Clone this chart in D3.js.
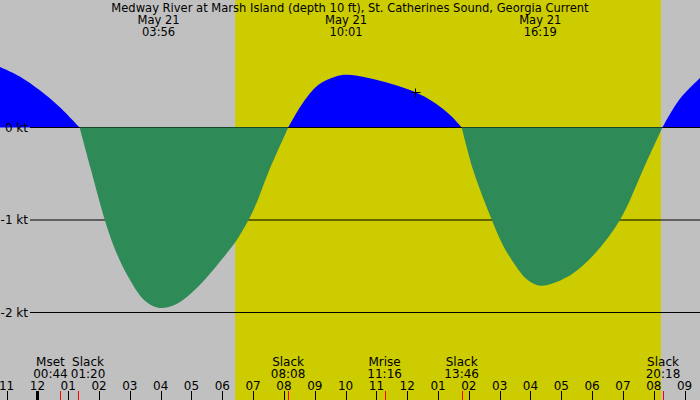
<!DOCTYPE html>
<html>
<head>
<meta charset="utf-8">
<script src="https://cdn.jsdelivr.net/npm/d3@7"></script>
<style>
  body { margin: 0; background: #c0c0c0; }
  svg { display: block; }
  text { font-family: "DejaVu Sans", sans-serif; font-size: 12px; fill: #000; }
  .head text { font-family: "DejaVu Sans Condensed", "DejaVu Sans", sans-serif; font-size: 12.8px; }
</style>
</head>
<body>
<div id="chart"></div>
<script>
// title and header (times of max flood / ebb)
const title = "Medway River at Marsh Island (depth 10 ft), St. Catherines Sound, Georgia Current";
const headDates = ["May 21", "May 21", "May 21"];
const headTimes = ["03:56", "10:01", "16:19"];

// current speed: hours after midnight, knots
const hours = [-1.25, -0.56, 0.09, 0.73, 1.37,
    1.75, 2.16, 2.51, 2.94, 3.48, 3.95, 4.5, 5.0, 5.5, 6.0, 6.5, 7.0, 7.5, 8.14,
    8.58, 9.11, 9.66, 10.04, 10.74, 11.5, 12.25, 12.9, 13.44, 13.77,
    14.14, 14.71, 15.12, 15.55, 15.88, 16.33, 17.17, 18.04, 18.9, 19.66, 20.28,
    20.85, 21.55];
const speeds = [0.66, 0.55, 0.40, 0.22, 0,
    -0.47, -0.97, -1.31, -1.61, -1.87, -1.95, -1.91, -1.79, -1.62, -1.42, -1.2, -0.9, -0.48, 0,
    0.25, 0.46, 0.55, 0.57, 0.535, 0.47, 0.384, 0.265, 0.12, 0,
    -0.46, -0.97, -1.28, -1.51, -1.64, -1.71, -1.62, -1.38, -1.0, -0.45, 0,
    0.31, 0.55];

// "now" marker
const nowHour = 12.25;
const nowSpeed = 0.384;

// daylight
const sunrise = "06:25";
const sunset = "20:14";

// events along the bottom
const eventNames = ["Mset", "Slack", "Slack", "Mrise", "Slack", "Slack"];
const eventTimes = ["00:44", "01:20", "08:08", "11:16", "13:46", "20:18"];

// y axis
const ktTicks = [0, -1, -2];
const ktLabels = ["0 kt", "-1 kt", "-2 kt"];

// hour ticks
const hourTicks = [-1, 0, 1, 2, 3, 4, 5, 6, 7, 8, 9, 10, 11, 12, 13, 14, 15, 16, 17, 18, 19, 20, 21];
const hourLabels = ["11", "12", "01", "02", "03", "04", "05", "06", "07", "08", "09", "10",
    "11", "12", "01", "02", "03", "04", "05", "06", "07", "08", "09"];

const toHour = s => { let p = s.split(":"); return +p[0] + p[1] / 60; };

const width = 700, height = 400;

const svg = d3.select("#chart").append("svg")
    .attr("width", width)
    .attr("height", height);

const x = d3.scaleLinear().domain([-1.2135, 21.5]).range([0, width]);
const y = d3.scaleLinear().domain([0, -2]).range([127.5, 312.5]);

// background: night grey, day yellow
svg.append("rect").attr("width", width).attr("height", height).attr("fill", "#c0c0c0");
svg.append("rect")
    .attr("x", x(toHour(sunrise)))
    .attr("width", x(toHour(sunset)) - x(toHour(sunrise)))
    .attr("height", height)
    .attr("fill", "#cccc00");

// split the series into flood / ebb pieces at each slack (v == 0)
const data = hours.map((h, i) => ({h: h, v: speeds[i]}));
let segments = [], cur = [];
data.forEach(d => {
    cur.push(d);
    if (d.v === 0) {
        segments.push(cur);
        cur = [d];
    }
});
if (cur.length > 1) segments.push(cur);
segments.forEach(s => s.sign = d3.sum(s, d => d.v) > 0 ? 1 : -1);

const area = d3.area()
    .curve(d3.curveCatmullRom.alpha(0.5))
    .x(d => x(d.h))
    .y0(y(0))
    .y1(d => y(d.v));

svg.selectAll(".flood")
    .data(segments.filter(s => s.sign > 0))
    .enter().append("path")
    .attr("class", "flood")
    .attr("fill", "#0000ff")
    .attr("d", area);

// grid lines
svg.selectAll(".grid")
    .data(ktTicks)
    .enter().append("line")
    .attr("class", "grid")
    .attr("x1", 30).attr("x2", width)
    .attr("y1", d => y(d)).attr("y2", d => y(d))
    .attr("stroke", "#000")
    .attr("stroke-width", 1);

svg.selectAll(".ebb")
    .data(segments.filter(s => s.sign < 0))
    .enter().append("path")
    .attr("class", "ebb")
    .attr("fill", "#2e8b57")
    .attr("d", area);

// now marker
const px = Math.round(x(nowHour)) + 0.5, py = Math.round(y(nowSpeed)) + 0.5;
svg.append("path")
    .attr("d", `M${px - 4},${py}H${px + 5}M${px},${py - 4}V${py + 5}`)
    .attr("stroke", "#000")
    .attr("stroke-width", 1);

// y labels
svg.selectAll(".ylab")
    .data(ktTicks)
    .enter().append("text")
    .attr("class", "ylab")
    .attr("x", 28)
    .attr("y", d => y(d) + 4)
    .attr("text-anchor", "end")
    .text((d, i) => ktLabels[i]);

// header
const head = svg.append("g").attr("class", "head");
head.append("text")
    .attr("x", width / 2).attr("y", 12)
    .attr("text-anchor", "middle")
    .text(title);
headTimes.forEach((t, i) => {
    head.append("text")
        .attr("x", x(toHour(t))).attr("y", 24)
        .attr("text-anchor", "middle")
        .text(headDates[i]);
    head.append("text")
        .attr("x", x(toHour(t))).attr("y", 36)
        .attr("text-anchor", "middle")
        .text(t);
});

// event labels, pushed apart when they overlap
const evG = svg.append("g");
let evs = eventTimes.map((t, i) => {
    let g = evG.append("g");
    let a = g.append("text").attr("y", 366).attr("text-anchor", "middle").text(eventNames[i]);
    let b = g.append("text").attr("y", 378).attr("text-anchor", "middle").text(t);
    let w = Math.max(a.node().getComputedTextLength(), b.node().getComputedTextLength());
    return {g: g, cx: x(toHour(t)), w: w};
});
for (let i = 1; i < evs.length; i++) {
    let p = evs[i - 1], c = evs[i];
    let need = (p.w + c.w) / 2 + 3;
    let gap = c.cx - p.cx;
    if (gap < need) {
        p.cx -= (need - gap) / 2;
        c.cx += (need - gap) / 2;
    }
}
evs.forEach(e => e.g.attr("transform", `translate(${e.cx},0)`));

// hour labels and ticks
svg.selectAll(".hlab")
    .data(hourTicks)
    .enter().append("text")
    .attr("class", "hlab")
    .attr("x", d => x(d))
    .attr("y", 390)
    .attr("text-anchor", "middle")
    .text((d, i) => hourLabels[i]);

svg.selectAll(".htick")
    .data(hourTicks)
    .enter().append("line")
    .attr("class", "htick")
    .attr("x1", d => Math.round(x(d)) + 0.5).attr("x2", d => Math.round(x(d)) + 0.5)
    .attr("y1", 391).attr("y2", height)
    .attr("stroke", "#000")
    .attr("stroke-width", d => d === 0 ? 3 : 1);

svg.selectAll(".etick")
    .data(eventTimes)
    .enter().append("line")
    .attr("class", "etick")
    .attr("x1", d => Math.round(x(toHour(d))) + 0.5).attr("x2", d => Math.round(x(toHour(d))) + 0.5)
    .attr("y1", 391).attr("y2", height)
    .attr("stroke", "#ff0000")
    .attr("stroke-width", 1);
</script>
</body>
</html>
